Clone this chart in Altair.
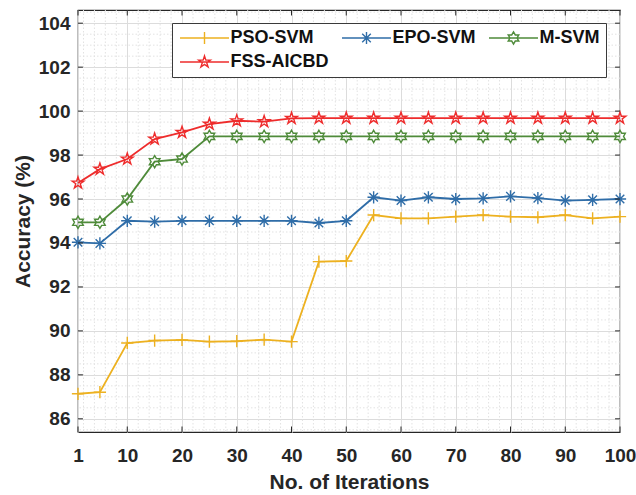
import math
import altair as alt
import pandas as pd

# ---------------- data ----------------
iterations = [1, 5, 10, 15, 20, 25, 30, 35, 40, 45, 50, 55, 60, 65, 70, 75, 80, 85, 90, 95, 100]
pso_svm = [87.14, 87.21, 89.45, 89.56, 89.59, 89.51, 89.53, 89.60, 89.51, 93.15, 93.18,
           95.27, 95.12, 95.12, 95.20, 95.27, 95.20, 95.17, 95.27, 95.12, 95.20]
epo_svm = [94.03, 93.98, 95.01, 94.97, 95.01, 95.01, 95.01, 95.01, 95.01, 94.91, 95.01,
           96.08, 95.93, 96.08, 96.00, 96.03, 96.12, 96.04, 95.93, 95.96, 96.00]
m_svm = [94.94, 94.94, 96.00, 97.70, 97.82, 98.85, 98.85, 98.85, 98.85, 98.85, 98.85,
         98.85, 98.85, 98.85, 98.85, 98.85, 98.85, 98.85, 98.85, 98.85, 98.85]
fss_aicbd = [96.73, 97.36, 97.82, 98.73, 99.03, 99.41, 99.56, 99.52, 99.67, 99.68, 99.68,
             99.68, 99.68, 99.68, 99.68, 99.68, 99.68, 99.68, 99.68, 99.68, 99.68]

series_names = ["PSO-SVM", "EPO-SVM", "M-SVM", "FSS-AICBD"]
series_values = [pso_svm, epo_svm, m_svm, fss_aicbd]
series_colors = ["#EDB120", "#2F6DA8", "#4F8B3A", "#EE2C2C"]

x_ticks = [1, 10, 20, 30, 40, 50, 60, 70, 80, 90, 100]
y_ticks = [86, 88, 90, 92, 94, 96, 98, 100, 102, 104]
x_domain = [1, 100]
y_domain = [85.4, 104.6]

# ---------------- marker paths ----------------
def star_path(n, r_in):
    pts = []
    for k in range(2 * n):
        r = 1.0 if k % 2 == 0 else r_in
        a = -math.pi / 2 + k * math.pi / n
        pts.append((r * math.cos(a), r * math.sin(a)))
    return "M" + "L".join(f"{x:.3f},{y:.3f}" for x, y in pts) + "Z"

plus_path = "M-1,0L1,0M0,-1L0,1"
aster_path = "M-1,0L1,0M0,-1L0,1M-0.7,-0.7L0.7,0.7M-0.7,0.7L0.7,-0.7"
hexa_path = star_path(6, 1 / math.sqrt(3))
penta_path = star_path(5, 0.382)
marker_paths = [plus_path, aster_path, hexa_path, penta_path]
legend_line = "M-4,0L4,0"
legend_paths = [legend_line + p for p in marker_paths]

rows = []
for name, vals in zip(series_names, series_values):
    for it, v in zip(iterations, vals):
        rows.append({"iter": it, "acc": v, "series": name})
df = pd.DataFrame(rows)

x_minor = [v for v in range(2, 100, 2) if v % 10 != 0]
y_minor = [85.5 + 0.5 * i for i in range(39) if (85.5 + 0.5 * i) % 2 != 0]

FONT = "Liberation Sans"
xs = alt.Scale(domain=x_domain, nice=False, zero=False)
ys = alt.Scale(domain=y_domain, nice=False, zero=False)

x_axis = alt.Axis(
    values=x_ticks, title="No. of Iterations", grid=True, gridColor="#dcdcdc",
    ticks=False, domain=False, labelFont=FONT, labelFontSize=19, labelFontWeight="bold",
    labelColor="#262626", labelPadding=14, titleFont=FONT, titleFontSize=21,
    titleFontWeight="bold", titleColor="#262626", titleY=56, titleBaseline="alphabetic",
    labelFlush=False)
y_axis = alt.Axis(
    values=y_ticks, title="Accuracy (%)", grid=True, gridColor="#dcdcdc",
    ticks=False, domain=False, labelFont=FONT, labelFontSize=19, labelFontWeight="bold",
    labelColor="#262626", labelPadding=8, titleFont=FONT, titleFontSize=21,
    titleFontWeight="bold", titleColor="#262626", titleX=-49, titleY=211,
    titleAngle=270, titleAlign="center", titleBaseline="alphabetic")

X = lambda f: alt.X(f, scale=xs, axis=x_axis)
Y = lambda f: alt.Y(f, scale=ys, axis=y_axis)

minor_x = alt.Chart(pd.DataFrame({"v": x_minor})).mark_rule(
    color="#e2e2e2", strokeDash=[1.5, 2], strokeWidth=1
).encode(x=X("v:Q"))

minor_y = alt.Chart(pd.DataFrame({"v": y_minor})).mark_rule(
    color="#e2e2e2", strokeDash=[1.5, 2], strokeWidth=1
).encode(y=Y("v:Q"))

line_layers = []
point_layers = []
for name, col, path in zip(series_names, series_colors, marker_paths):
    base = alt.Chart(df).transform_filter(alt.datum.series == name)
    line_layers.append(
        base.mark_line(color=col, strokeWidth=1.8).encode(x=X("iter:Q"), y=Y("acc:Q"))
    )
    point_layers.append(
        base.mark_point(shape=path, color=col, filled=False, size=150,
                        strokeWidth=1.4, opacity=1).encode(x=X("iter:Q"), y=Y("acc:Q"))
    )

leg = alt.Legend(
    title=None, orient="none", legendX=94, legendY=13, columns=3, direction="horizontal",
    labelFont=FONT, labelFontSize=18, labelFontWeight="bold", labelColor="#111111",
    fillColor="white", strokeColor="#3a3a3a", padding=6,
    rowPadding=6, columnPadding=10, symbolSize=150, symbolStrokeWidth=1.4,
    symbolOffset=17.5, labelOffset=17)

legend_layer = alt.Chart(df).transform_filter(alt.datum.iter < 0).mark_point(
    filled=False, size=150, strokeWidth=1.4, opacity=1
).encode(
    x=X("iter:Q"), y=Y("acc:Q"),
    color=alt.Color("series:N", scale=alt.Scale(domain=series_names, range=series_colors),
                    legend=leg),
    shape=alt.Shape("series:N", scale=alt.Scale(domain=series_names, range=legend_paths),
                    legend=leg),
)

tick_len_y = 0.25
tick_len_x = 0.9
xt = pd.DataFrame({"v": x_ticks})
yt = pd.DataFrame({"v": y_ticks})
tick_style = dict(color="#262626", strokeWidth=1)
ticks_bottom = alt.Chart(xt).mark_rule(**tick_style).encode(
    x=X("v:Q"), y=alt.datum(y_domain[0], scale=ys, axis=y_axis), y2=alt.datum(y_domain[0] + tick_len_y))
ticks_top = alt.Chart(xt).mark_rule(**tick_style).encode(
    x=X("v:Q"), y=alt.datum(y_domain[1], scale=ys, axis=y_axis), y2=alt.datum(y_domain[1] - tick_len_y))
ticks_left = alt.Chart(yt).mark_rule(**tick_style).encode(
    y=Y("v:Q"), x=alt.datum(x_domain[0], scale=xs, axis=x_axis), x2=alt.datum(x_domain[0] + tick_len_x))
ticks_right = alt.Chart(yt).mark_rule(**tick_style).encode(
    y=Y("v:Q"), x=alt.datum(x_domain[1], scale=xs, axis=x_axis), x2=alt.datum(x_domain[1] - tick_len_x))

chart = alt.layer(
    minor_x, minor_y, *line_layers, *point_layers, legend_layer,
    ticks_bottom, ticks_top, ticks_left, ticks_right
).properties(
    width=542, height=422,
    autosize=alt.AutoSizeParams(type="none"),
    padding={"left": 78, "top": 10, "right": 16, "bottom": 63},
    background="white",
).configure_view(stroke="#262626", strokeWidth=1.2)

chart.save("out.html", embed_options={"renderer": "svg", "actions": False})
